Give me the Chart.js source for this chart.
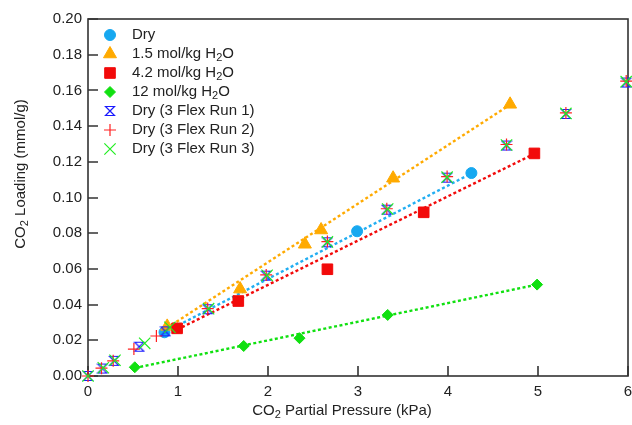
<!DOCTYPE html>
<html>
<head>
<meta charset="utf-8">
<script src="https://cdn.jsdelivr.net/npm/chart.js@4"></script>
<style>
  html, body { margin: 0; padding: 0; background: #fff; }
  #wrap { width: 632px; height: 425px; }
</style>
</head>
<body>
<div id="wrap"><canvas id="isoChart" width="632" height="425"></canvas></div>
<script>
// CO2 uptake vs partial pressure: dry sorbent and sorbent with added water
const dryP = [0.85, 2.99, 4.26];
const dryQ = [0.0245, 0.0811, 0.1137];
const h15P = [0.88, 1.69, 2.41, 2.59, 3.39, 4.69];
const h15Q = [0.0278, 0.0487, 0.0738, 0.0818, 0.1108, 0.1522];
const h42P = [0.99, 1.67, 2.66, 3.73, 4.96];
const h42Q = [0.0267, 0.0420, 0.0598, 0.0917, 0.1247];
const h12P = [0.52, 1.73, 2.35, 3.33, 4.99];
const h12Q = [0.0049, 0.0168, 0.0212, 0.0342, 0.0512];

// volumetric (3 Flex) isotherms, three repeat runs
const run1P = [0, 0.16, 0.29, 0.57, 0.86, 1.33, 1.98, 2.66, 3.32, 3.99, 4.65, 5.31, 5.98];
const run1Q = [0, 0.0042, 0.0085, 0.0164, 0.0250, 0.0374, 0.0562, 0.0749, 0.0932, 0.1111, 0.1291, 0.1468, 0.1644];
const run2P = [0, 0.15, 0.28, 0.51, 0.76, 1.33, 1.98, 2.66, 3.32, 3.99, 4.65, 5.31, 5.98];
const run2Q = [0, 0.0044, 0.0085, 0.0151, 0.0224, 0.0378, 0.0566, 0.0753, 0.0937, 0.1117, 0.1297, 0.1474, 0.1652];
const run3P = [0, 0.17, 0.30, 0.63, 0.91, 1.34, 1.99, 2.66, 3.33, 3.99, 4.65, 5.31, 5.98];
const run3Q = [0, 0.0046, 0.0088, 0.0183, 0.0273, 0.0377, 0.0564, 0.0751, 0.0935, 0.1114, 0.1294, 0.1471, 0.1649];

// linear fits, drawn as dotted segments [start, end]
const dryFitP = [0.95, 4.26];
const dryFitQ = [0.0270, 0.1135];
const h15FitP = [0.88, 4.69];
const h15FitQ = [0.0270, 0.1520];
const h42FitP = [0.99, 4.96];
const h42FitQ = [0.0260, 0.1245];
const h12FitP = [0.52, 4.99];
const h12FitQ = [0.0045, 0.0512];

const xTickValues = [0, 1, 2, 3, 4, 5, 6];
const xTickLabels = ['0', '1', '2', '3', '4', '5', '6'];
const yTickValues = [0, 0.02, 0.04, 0.06, 0.08, 0.10, 0.12, 0.14, 0.16, 0.18, 0.20];
const yTickLabels = ['0.00', '0.02', '0.04', '0.06', '0.08', '0.10', '0.12', '0.14', '0.16', '0.18', '0.20'];

// legend rows: label pieces, [text, isSubscript]
const legendLabels = [
  [['Dry', 0]],
  [['1.5 mol/kg H', 0], ['2', 1], ['O', 0]],
  [['4.2 mol/kg H', 0], ['2', 1], ['O', 0]],
  [['12 mol/kg H', 0], ['2', 1], ['O', 0]],
  [['Dry (3 Flex Run 1)', 0]],
  [['Dry (3 Flex Run 2)', 0]],
  [['Dry (3 Flex Run 3)', 0]]
];

const FONT = '"Liberation Sans", Arial, sans-serif';
const AXIS_COLOR = '#333';
const TEXT_COLOR = '#222';

const colors = {
  dry: '#17a8f0', dryFit: '#22aef2',
  h15: '#ffaa00', h42: '#f20a0a', h12: '#10e010',
  run1: '#1a1aff', run2: '#ff2020', run3: '#22ee22'
};

function toPoints(xs, ys) {
  return xs.map((x, i) => ({ x: x, y: ys[i] }));
}

// hourglass marker as a small canvas
function hourglassCanvas(color, size) {
  const c = document.createElement('canvas');
  c.width = size + 2;
  c.height = size + 2;
  const g = c.getContext('2d');
  g.strokeStyle = color;
  g.lineWidth = 1.2;
  g.beginPath();
  g.moveTo(1.5, 1.5);
  g.lineTo(size + 0.5, 1.5);
  g.lineTo(1.5, size + 0.5);
  g.lineTo(size + 0.5, size + 0.5);
  g.closePath();
  g.stroke();
  return c;
}
const hourglass = hourglassCanvas(colors.run1, 10);

// lower order value = drawn later (on top)
function markerSet(label, xs, ys, style, radius, color, filled, bw, order) {
  return {
    label: label,
    data: toPoints(xs, ys),
    showLine: false,
    pointStyle: style,
    pointRadius: radius,
    pointHoverRadius: radius,
    pointBackgroundColor: filled ? color : 'transparent',
    pointBorderColor: color,
    pointBorderWidth: bw,
    clip: false,
    order: order
  };
}

function fitSet(xs, ys, color) {
  return {
    label: '',
    data: toPoints(xs, ys),
    showLine: true,
    borderColor: color,
    borderWidth: 2.4,
    borderDash: [3, 2.5],
    pointRadius: 0,
    fill: false,
    clip: false,
    order: 20
  };
}

const datasets = [
  markerSet('Dry', dryP, dryQ, 'circle', 5.5, colors.dry, true, 1, 10),
  markerSet('1.5 mol/kg H2O', h15P, h15Q, 'triangle', 7.5, colors.h15, true, 1, 9),
  markerSet('4.2 mol/kg H2O', h42P, h42Q, 'rect', 7.5, colors.h42, true, 1, 8),
  markerSet('12 mol/kg H2O', h12P, h12Q, 'rectRot', 5.5, colors.h12, true, 1, 7),
  markerSet('Dry (3 Flex Run 1)', run1P, run1Q, hourglass, 6, colors.run1, false, 1, 6),
  markerSet('Dry (3 Flex Run 2)', run2P, run2Q, 'cross', 6, colors.run2, false, 1.2, 5),
  markerSet('Dry (3 Flex Run 3)', run3P, run3Q, 'crossRot', 8, colors.run3, false, 1.2, 4),
  fitSet(dryFitP, dryFitQ, colors.dryFit),
  fitSet(h15FitP, h15FitQ, colors.h15),
  fitSet(h42FitP, h42FitQ, colors.h42),
  fitSet(h12FitP, h12FitQ, colors.h12)
];

// text with subscript pieces
function drawRich(ctx, parts, x, y, align) {
  const big = '15px ' + FONT;
  const small = '11px ' + FONT;
  let total = 0;
  parts.forEach(p => { ctx.font = p[1] ? small : big; total += ctx.measureText(p[0]).width; });
  let cx = align === 'center' ? x - total / 2 : x;
  ctx.textAlign = 'left';
  ctx.textBaseline = 'middle';
  parts.forEach(p => {
    ctx.font = p[1] ? small : big;
    ctx.fillText(p[0], cx, p[1] ? y + 4 : y);
    cx += ctx.measureText(p[0]).width;
  });
}

function drawMarker(ctx, ds, x, y) {
  const st = ds.pointStyle;
  ctx.save();
  if (typeof st !== 'string') {
    ctx.drawImage(st, x - st.width / 2, y - st.height / 2);
  } else {
    ctx.fillStyle = ds.pointBackgroundColor;
    ctx.strokeStyle = ds.pointBorderColor;
    ctx.lineWidth = ds.pointBorderWidth;
    Chart.helpers.drawPoint(ctx, { pointStyle: st, radius: ds.pointRadius, borderWidth: ds.pointBorderWidth, rotation: 0 }, x, y);
  }
  ctx.restore();
}

const framePlugin = {
  id: 'frame',
  beforeDatasetsDraw(chart) {
    const { ctx, chartArea: a, scales } = chart;
    ctx.save();
    ctx.strokeStyle = AXIS_COLOR;
    ctx.lineWidth = 1.6;
    ctx.strokeRect(a.left, a.top, a.right - a.left, a.bottom - a.top);
    // inward ticks on left and bottom axes
    ctx.beginPath();
    yTickValues.forEach(v => {
      const py = Math.round(scales.y.getPixelForValue(v));
      ctx.moveTo(a.left, py);
      ctx.lineTo(a.left + 10, py);
    });
    xTickValues.forEach(v => {
      const px = Math.round(scales.x.getPixelForValue(v));
      ctx.moveTo(px, a.bottom);
      ctx.lineTo(px, a.bottom - 10);
    });
    ctx.stroke();
    ctx.restore();
  },
  afterDraw(chart) {
    const { ctx } = chart;
    ctx.save();
    ctx.fillStyle = TEXT_COLOR;
    // axis titles
    drawRich(ctx, [['CO', 0], ['2', 1], [' Partial Pressure (kPa)', 0]], 342, 411, 'center');
    ctx.translate(21, 174);
    ctx.rotate(-Math.PI / 2);
    drawRich(ctx, [['CO', 0], ['2', 1], [' Loading (mmol/g)', 0]], 0, 0, 'center');
    ctx.restore();

    // legend, top-left inside plot
    ctx.save();
    legendLabels.forEach((parts, i) => {
      const y = 35 + i * 19;
      drawMarker(ctx, chart.data.datasets[i], 110, y);
      ctx.fillStyle = TEXT_COLOR;
      drawRich(ctx, parts, 132, y, 'left');
    });
    ctx.restore();
  }
};

new Chart(document.getElementById('isoChart'), {
  type: 'scatter',
  data: { datasets: datasets },
  plugins: [framePlugin],
  options: {
    responsive: false,
    animation: false,
    layout: { autoPadding: false, padding: { top: 19, right: 4, left: 0, bottom: 0 } },
    plugins: { legend: { display: false }, tooltip: { enabled: false } },
    scales: {
      x: {
        type: 'linear', min: 0, max: 6,
        grid: { display: false, drawTicks: false },
        border: { display: false },
        afterBuildTicks: s => { s.ticks = xTickValues.map(v => ({ value: v })); },
        afterFit: s => { s.height = 49; s.paddingLeft = 0; s.paddingRight = 0; },
        ticks: {
          padding: 7, color: TEXT_COLOR, maxRotation: 0,
          font: { family: FONT, size: 15 },
          callback: (v, i) => xTickLabels[i]
        }
      },
      y: {
        type: 'linear', min: 0, max: 0.2,
        grid: { display: false, drawTicks: false },
        border: { display: false },
        afterBuildTicks: s => { s.ticks = yTickValues.map(v => ({ value: v })); },
        afterFit: s => { s.width = 88; s.paddingTop = 0; s.paddingBottom = 0; },
        ticks: {
          padding: 6, color: TEXT_COLOR,
          font: { family: FONT, size: 15 },
          callback: (v, i) => yTickLabels[i]
        }
      }
    }
  }
});
</script>
</body>
</html>
